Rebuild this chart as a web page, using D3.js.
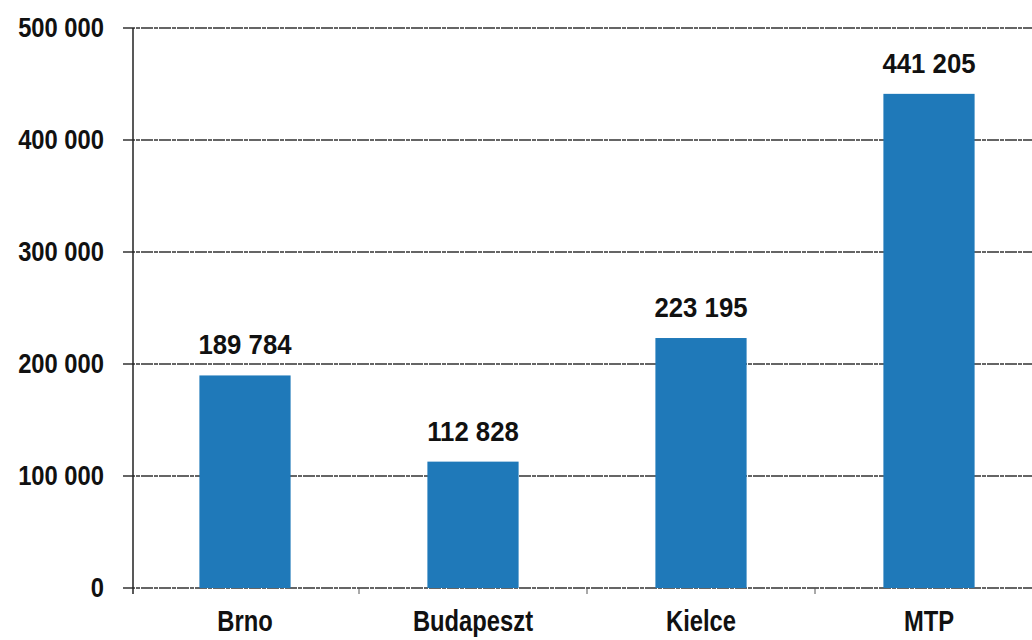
<!DOCTYPE html>
<html>
<head>
<meta charset="utf-8">
<script src="https://cdn.jsdelivr.net/npm/d3@7"></script>
<style>
  body { margin: 0; background: #fff; }
  svg text { font-family: "Liberation Sans", Arial, sans-serif; font-weight: bold; fill: #111; }
</style>
</head>
<body>
<script>
// chart data
const categories = ["Brno", "Budapeszt", "Kielce", "MTP"];
const values = [189784, 112828, 223195, 441205];
const yTicks = [0, 100000, 200000, 300000, 400000, 500000];

var width = 1032, height = 640;
var mLeft = 131, mTop = 28, mBottom = 588;

// numbers with a space as thousands separator
const fmt = v => d3.format(",")(v).replace(/,/g, " ");

var svg = d3.select("body").append("svg")
    .attr("width", width)
    .attr("height", height);

var x = d3.scaleBand()
    .domain(categories)
    .range([mLeft, mLeft + 228 * 4])
    .paddingInner(0.6)
    .paddingOuter(0.3);

var y = d3.scaleLinear()
    .domain([0, 500000])
    .range([mBottom, mTop]);

// gridlines
svg.append("g")
    .selectAll("line")
    .data(yTicks)
    .enter().append("line")
    .attr("x1", mLeft - 8)
    .attr("x2", width)
    .attr("y1", d => y(d))
    .attr("y2", d => y(d))
    .attr("stroke", "#333")
    .attr("stroke-width", 1.3)
    .attr("stroke-dasharray", "12,1,4,1");

// y axis line
svg.append("line")
    .attr("x1", mLeft + 2).attr("x2", mLeft + 2)
    .attr("y1", mTop).attr("y2", mBottom + 6)
    .attr("stroke", "#222")
    .attr("stroke-width", 1.5);

// y tick labels (condensed)
svg.append("g")
    .selectAll("text")
    .data(yTicks)
    .enter().append("text")
    .attr("transform", d => "translate(104," + (y(d) + 9) + ") scale(0.88,1)")
    .attr("text-anchor", "end")
    .style("font-size", "27px")
    .text(d => fmt(d));

// category boundary ticks
svg.append("g")
    .selectAll("line")
    .data(categories.slice(1))
    .enter().append("line")
    .attr("x1", d => x(d) - x.step() * x.paddingInner() / 2)
    .attr("x2", d => x(d) - x.step() * x.paddingInner() / 2)
    .attr("y1", mBottom)
    .attr("y2", mBottom + 6)
    .attr("stroke", "#555")
    .attr("stroke-width", 1);

// bars
svg.append("g")
    .selectAll("rect")
    .data(values)
    .enter().append("rect")
    .attr("x", (d, i) => x(categories[i]))
    .attr("width", x.bandwidth())
    .attr("y", d => y(d))
    .attr("height", d => y(0) - y(d))
    .attr("fill", "#1f79b9");

// value labels
svg.append("g")
    .selectAll("text")
    .data(values)
    .enter().append("text")
    .attr("transform", (d, i) => "translate(" + (x(categories[i]) + x.bandwidth() / 2) + "," + (y(d) - 21) + ") scale(0.92,1)")
    .attr("text-anchor", "middle")
    .style("font-size", "28px")
    .text(d => fmt(d));

// category labels
svg.append("g")
    .selectAll("text")
    .data(categories)
    .enter().append("text")
    .attr("transform", d => "translate(" + (x(d) + x.bandwidth() / 2) + ",631) scale(0.82,1)")
    .attr("text-anchor", "middle")
    .style("font-size", "29px")
    .text(d => d);
</script>
</body>
</html>
